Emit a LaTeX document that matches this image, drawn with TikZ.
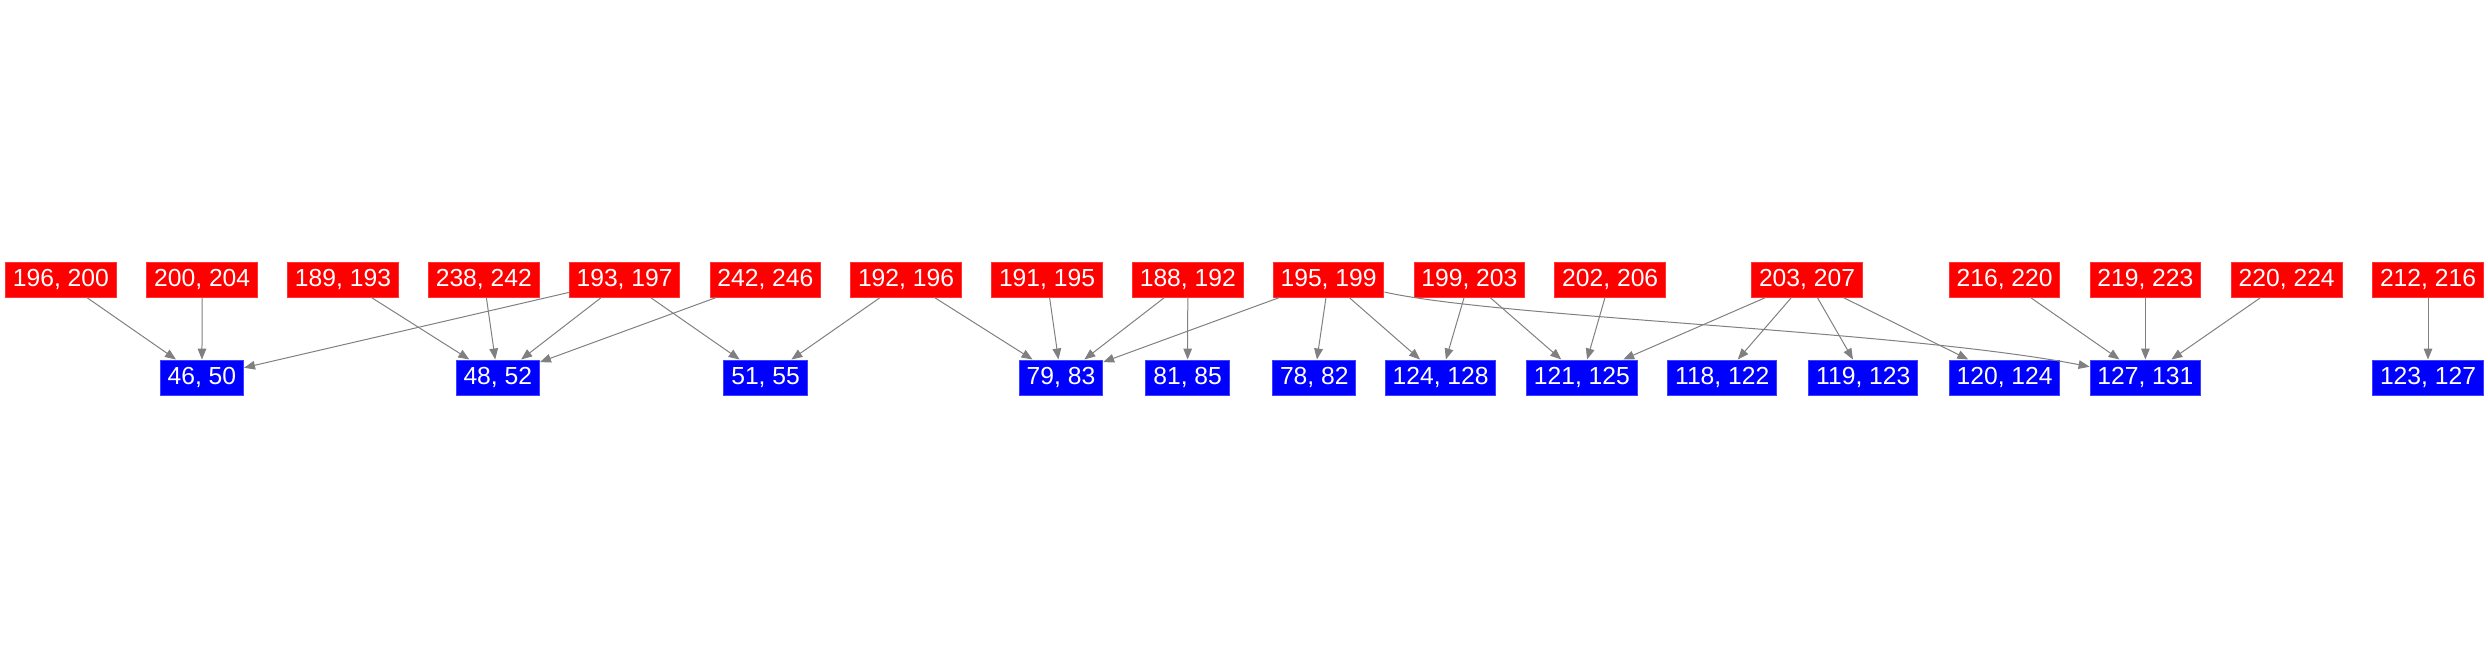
\documentclass[tikz,border=0pt]{standalone}
\usepackage{fontspec}
\setmainfont{Liberation Sans}
\usetikzlibrary{arrows.meta}
\definecolor{edgegray}{HTML}{808080}
\tikzset{
  src/.style={rectangle, fill=red, draw=red!80!white, line width=0.3pt, text=white,
    inner xsep=2.2pt, inner ysep=0pt, minimum height=10.5pt,
    font=\fontsize{7.4}{8.8}\selectfont},
  dst/.style={src, fill=blue, draw=blue!75!white},
  edge/.style={draw=edgegray, line width=0.3pt, -{Triangle[length=3.3pt,width=2.6pt]}}
}
\begin{document}
\begin{tikzpicture}[x=0.3pt, y=-0.3pt]
\useasboundingbox (0,0) rectangle (2488,656);
% red row
\node[src] (r1)  at (60.9,279.5)   {196, 200};
\node[src] (r2)  at (202.2,279.5)  {200, 204};
\node[src] (r3)  at (343,279.5)    {189, 193};
\node[src] (r4)  at (483.8,279.5)  {238, 242};
\node[src] (r5)  at (624.6,279.5)  {193, 197};
\node[src] (r6)  at (765.4,279.5)  {242, 246};
\node[src] (r7)  at (906,279.5)    {192, 196};
\node[src] (r8)  at (1047,279.5)   {191, 195};
\node[src] (r9)  at (1187.8,279.5) {188, 192};
\node[src] (r10) at (1328.6,279.5) {195, 199};
\node[src] (r11) at (1469.4,279.5) {199, 203};
\node[src] (r12) at (1610.2,279.5) {202, 206};
\node[src] (r13) at (1807,279.5)   {203, 207};
\node[src] (r14) at (2004.6,279.5) {216, 220};
\node[src] (r15) at (2145.4,279.5) {219, 223};
\node[src] (r16) at (2286.7,279.5) {220, 224};
\node[src] (r17) at (2428,279.5)   {212, 216};
% blue row
\node[dst] (b1)  at (201.9,377.5)  {46, 50};
\node[dst] (b2)  at (497.8,377.5)  {48, 52};
\node[dst] (b3)  at (765.6,377.5)  {51, 55};
\node[dst] (b4)  at (1061,377.5)   {79, 83};
\node[dst] (b5)  at (1187.6,377.5) {81, 85};
\node[dst] (b6)  at (1314.3,377.5) {78, 82};
\node[dst] (b7)  at (1440.6,377.5) {124, 128};
\node[dst] (b8)  at (1581.9,377.5) {121, 125};
\node[dst] (b9)  at (1722.2,377.5) {118, 122};
\node[dst] (b10) at (1863.3,377.5) {119, 123};
\node[dst] (b11) at (2004.6,377.5) {120, 124};
\node[dst] (b12) at (2145.4,377.5) {127, 131};
\node[dst] (b13) at (2428,377.5)   {123, 127};
% edges
\draw[edge] (r1) -- (b1);
\draw[edge] (r2) -- (b1);
\draw[edge] (r5) -- (b1);
\draw[edge] (r3) -- (b2);
\draw[edge] (r4) -- (b2);
\draw[edge] (r5) -- (b2);
\draw[edge] (r6) -- (b2);
\draw[edge] (r5) -- (b3);
\draw[edge] (r7) -- (b3);
\draw[edge] (r7) -- (b4);
\draw[edge] (r8) -- (b4);
\draw[edge] (r9) -- (b4);
\draw[edge] (r10) -- (b4);
\draw[edge] (r9) -- (b5);
\draw[edge] (r10) -- (b6);
\draw[edge] (r10) -- (b7);
\draw[edge] (r10) .. controls (1500,318) and (1900,330) .. (b12);
\draw[edge] (r11) -- (b7);
\draw[edge] (r11) -- (b8);
\draw[edge] (r12) -- (b8);
\draw[edge] (r13) -- (b8);
\draw[edge] (r13) -- (b9);
\draw[edge] (r13) -- (b10);
\draw[edge] (r13) -- (b11);
\draw[edge] (r14) -- (b12);
\draw[edge] (r15) -- (b12);
\draw[edge] (r16) -- (b12);
\draw[edge] (r17) -- (b13);
\end{tikzpicture}
\end{document}
